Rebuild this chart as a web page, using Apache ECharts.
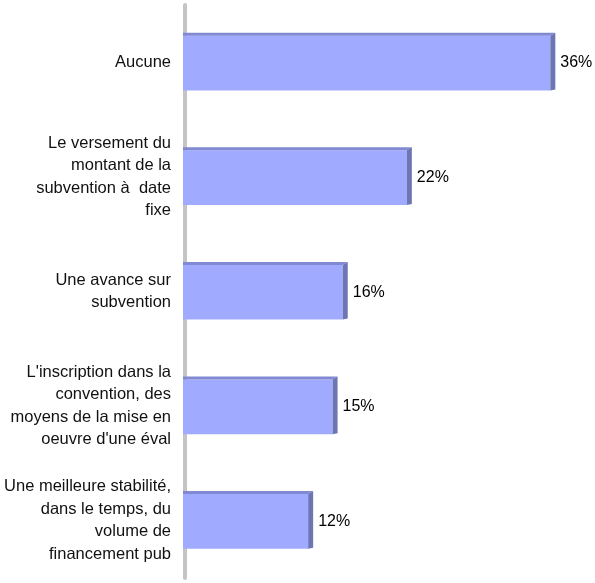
<!DOCTYPE html>
<html>
<head>
<meta charset="utf-8">
<script src="https://cdn.jsdelivr.net/npm/echarts@6/dist/echarts.min.js"></script>
<style>
	html, body { margin: 0; padding: 0; background: #fff; }
	#chart { width: 595px; height: 583px; }
</style>
</head>
<body>
<div id="chart"></div>
<script>
	var categories = [
		'Aucune',
		'Le versement du\nmontant de la\nsubvention à  date\nfixe',
		'Une avance sur\nsubvention',
		'L\'inscription dans la\nconvention, des\nmoyens de la mise en\noeuvre d\'une éval',
		'Une meilleure stabilité,\ndans le temps, du\nvolume de\nfinancement pub'
	];
	var values = [36.1, 22.0, 15.7, 14.7, 12.3];

	var myChart = echarts.init(document.getElementById('chart'));

	// bar drawn as front face + top strip + dark side, to get the 3D look
	function renderBar(params, api) {
		var idx = api.value(0);
		var val = api.value(1);
		var p0 = api.coord([0, idx]);
		var p1 = api.coord([val, idx]);
		var band = api.size([0, 1])[1];
		var h = band * 0.49;
		var dx = 5, dy = 3;
		var x0 = p0[0], x1 = p1[0];
		var top = p0[1] - h / 2 + dy / 2;
		var bottom = p0[1] + h / 2;
		return {
			type: 'group',
			children: [{
				type: 'rect',
				shape: { x: x0, y: top, width: x1 - x0, height: bottom - top },
				style: { fill: '#a0abff' }
			}, {
				type: 'polygon',
				shape: { points: [[x0, top], [x0, top - dy], [x1 + dx, top - dy], [x1, top]] },
				style: { fill: '#8089d2' }
			}, {
				type: 'polygon',
				shape: { points: [[x1, top], [x1 + dx, top - dy], [x1 + dx, bottom - 1], [x1, bottom]] },
				style: { fill: '#6d76b4' }
			}, {
				type: 'text',
				x: x1 + dx + 5,
				y: (top + bottom) / 2,
				style: {
					text: Math.round(val) + '%',
					fill: '#000',
					font: '16px "Liberation Sans", Arial, sans-serif',
					verticalAlign: 'middle',
					align: 'left'
				}
			}]
		};
	}

	var data = [];
	for (var i = 0; i < values.length; i++) {
		data.push([i, values[i]]);
	}

	var option = {
		animation: false,
		grid: {
			left: 183,
			right: 5,
			top: 5,
			bottom: 5
		},
		xAxis: {
			type: 'value',
			min: 0,
			max: 40,
			show: false
		},
		yAxis: {
			type: 'category',
			data: categories,
			inverse: true,
			offset: -2,
			axisLine: {
				lineStyle: { color: '#c4c4c4', width: 4 }
			},
			axisTick: { show: false },
			axisLabel: {
				margin: 14,
				color: '#111',
				fontSize: 16.5,
				lineHeight: 22.5,
				fontFamily: '"Liberation Sans", Arial, sans-serif',
				align: 'right'
			}
		},
		series: [{
			type: 'custom',
			renderItem: renderBar,
			encode: { x: 1, y: 0 },
			data: data
		}]
	};
	myChart.setOption(option);
</script>
</body>
</html>
